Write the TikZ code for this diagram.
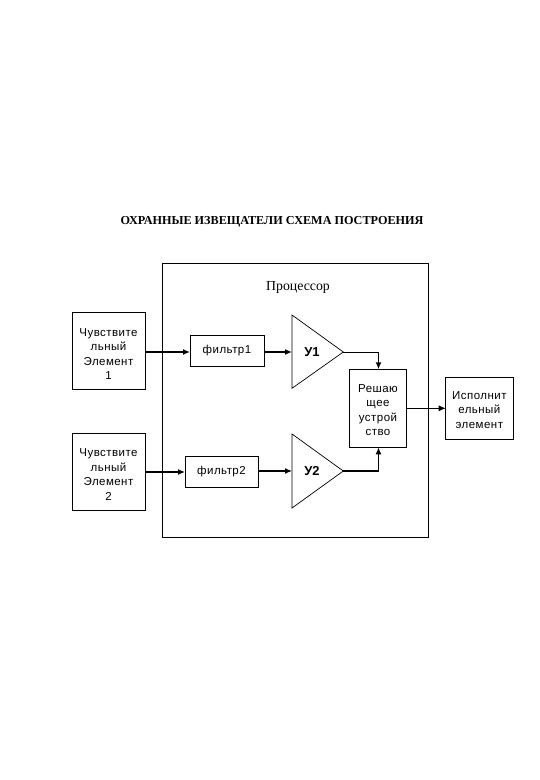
\documentclass[tikz,border=0pt]{standalone}
\usepackage{fontspec}
\setmainfont{Liberation Sans}
\newfontfamily\serifcyr{Liberation Serif}
\usetikzlibrary{arrows.meta}
\begin{document}
\begin{tikzpicture}[x=1pt,y=-1pt,
  box/.style={draw,line width=0.7pt,inner sep=0pt},
  lbl/.style={font=\addfontfeature{LetterSpace=4}\fontsize{11.5}{14.5}\selectfont,align=center,inner sep=0pt},
  amp/.style={inner sep=0pt,font=\bfseries\fontsize{13}{14}\selectfont},
  conn/.style={-{Latex[length=7pt,width=6pt]},line width=1.8pt},
  thinconn/.style={-{Latex[length=7pt,width=6pt]},line width=0.7pt}]
\useasboundingbox[fill=white] (0,0) rectangle (540,780);
% title
\node[inner sep=0pt,font=\serifcyr\bfseries\fontsize{12.2}{14}\selectfont] (title) at (272,222) {ОХРАННЫЕ ИЗВЕЩАТЕЛИ СХЕМА ПОСТРОЕНИЯ};
% processor frame
\draw[line width=0.7pt] (162,263) rectangle (428,537);
\node[inner sep=0pt,font=\serifcyr\fontsize{13.8}{15}\selectfont] (proc) at (298,287) {Процессор};
% sensors
\draw[box] (72,312) rectangle (145,389);
\node[lbl] (s1) at (108.5,354) {Чувствите\\льный\\Элемент\\1};
\coordinate (s1out) at (145,352);
\draw[box] (72,433) rectangle (145,510);
\node[lbl] (s2) at (108.5,474.5) {Чувствите\\льный\\Элемент\\2};
\coordinate (s2out) at (145,472);
% filters
\draw[box] (190,335) rectangle (264,366);
\node[lbl] (f1) at (227,351) {фильтр1};
\coordinate (f1in) at (190,352);
\coordinate (f1out) at (264,352);
\draw[box] (185,456) rectangle (258,487);
\node[lbl] (f2) at (221.5,472) {фильтр2};
\coordinate (f2in) at (185,472);
\coordinate (f2out) at (258,471);
% amplifiers
\draw[line width=0.7pt] (292,315) -- (343.3,352) -- (292,388.3) -- cycle;
\coordinate (a1in) at (292,352);
\coordinate (a1out) at (343.3,352);
\node[amp] (a1) at (312,352) {У1};
\draw[line width=0.7pt] (292,434) -- (343.3,471) -- (292,508) -- cycle;
\coordinate (a2in) at (292,471);
\coordinate (a2out) at (343.3,471);
\node[amp] (a2) at (312,471) {У2};
% decision device
\draw[box] (349.3,369.3) rectangle (406.7,447.3);
\node[lbl] (dec) at (378,410) {Решаю\\щее\\устрой\\ство};
\coordinate (dectop) at (378.5,369.3);
\coordinate (decbot) at (378.5,447.3);
\coordinate (decout) at (406.7,408.3);
% executive element
\draw[box] (445.7,377.3) rectangle (513,439.3);
\node[lbl] (exe) at (479.35,410) {Исполнит\\ельный\\элемент};
\coordinate (exein) at (445.7,408.3);
% connectors
\draw[conn] (s1out) -- (f1in);
\draw[conn] (f1out) -- (a1in);
\draw[line width=0.8pt] (a1out) -- (378.5,352);
\draw[conn] (378.5,351.6) -- (dectop);
\draw[conn] (s2out) -- (f2in);
\draw[thinconn,line width=1.2pt] (f2out) -- (a2in);
\draw[conn] (a2out) -| (decbot);
\draw[thinconn] (decout) -- (exein);
\end{tikzpicture}
\end{document}
